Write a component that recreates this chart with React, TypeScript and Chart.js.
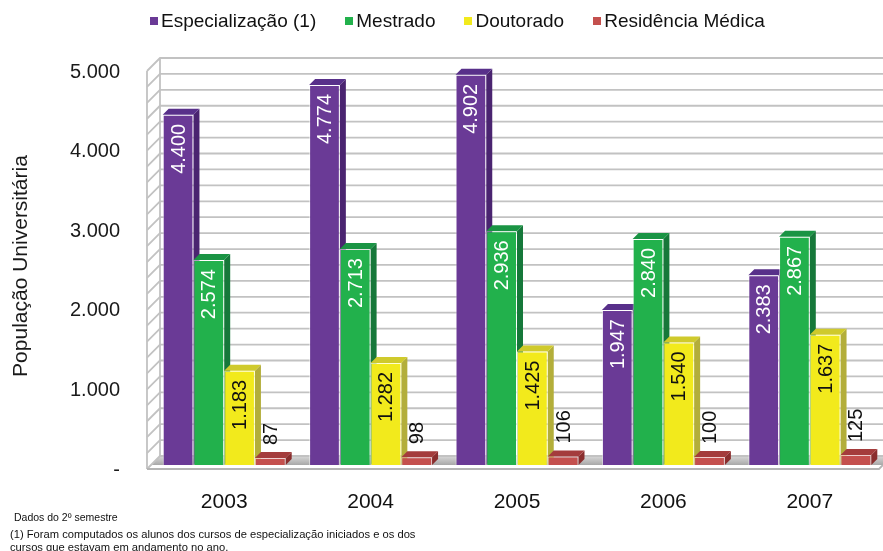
import React, { useEffect, useRef } from "react";
import { Chart, registerables } from "chart.js";

Chart.register(...registerables);

const years = ["2003", "2004", "2005", "2006", "2007"];
const especializacao = [4400, 4774, 4902, 1947, 2383];
const mestrado = [2574, 2713, 2936, 2840, 2867];
const doutorado = [1183, 1282, 1425, 1540, 1637];
const residencia = [87, 98, 106, 100, 125];
const seriesNames = ["Especialização (1)", "Mestrado", "Doutorado", "Residência Médica"];
const seriesValues = [especializacao, mestrado, doutorado, residencia];
const yMin = 0;
const yMax = 5000;
const yStep = 1000;
const gridStep = 200;
const axisTitle = "População Universitária";
const footnote1 = "Dados do 2º semestre";
const footnote2 = "(1) Foram computados os alunos dos cursos de especialização iniciados e os dos";
const footnote3 = "cursos que estavam em andamento no ano.";

const frontColors = ["#6a3a96", "#22b14c", "#f2ea1c", "#c4504e"];
const sideColors = ["#4a2470", "#16783a", "#b3ae3a", "#8a2e2e"];
const topColors = ["#58308a", "#1a9444", "#cfca2c", "#a43c3c"];
const labelColors = ["#ffffff", "#ffffff", "#111111", "#111111"];
const borderColors = ["rgba(255,255,255,0.55)", "rgba(255,255,255,0.55)", "rgba(255,255,200,0.8)", "rgba(255,210,210,0.7)"];

const FONT = "'Liberation Sans', Arial, sans-serif";

const fmt = (n: number) => String(n).replace(/\B(?=(\d{3})+(?!\d))/g, ".");

const DEPTH = 6;

const wallPlugin = {
  id: "walls3d",
  beforeDatasetsDraw(chart: any) {
    const { ctx, chartArea, scales } = chart;
    const y = scales.y;
    const L = chartArea.left - 4;
    const DX = 13;
    const DY = 13;
    const R = chart.width;
    const yf = (v: number) => y.getPixelForValue(v) + 4;
    const yb = (v: number) => yf(v) - DY;
    ctx.save();
    const g = ctx.createLinearGradient(0, yb(0), 0, y.getPixelForValue(0));
    g.addColorStop(0, "#d8d8d8");
    g.addColorStop(1, "#a8a8a8");
    ctx.fillStyle = g;
    ctx.beginPath();
    ctx.moveTo(L + DX, yb(0));
    ctx.lineTo(R, yb(0));
    ctx.lineTo(R, y.getPixelForValue(0));
    ctx.lineTo(L + 4, y.getPixelForValue(0));
    ctx.closePath();
    ctx.fill();
    ctx.strokeStyle = "#c2c2c2";
    ctx.lineWidth = 1.8;
    for (let v = yMin; v <= yMax; v += gridStep) {
      ctx.beginPath();
      ctx.moveTo(L, yf(v));
      ctx.lineTo(L + DX, yb(v));
      ctx.lineTo(R, yb(v));
      ctx.stroke();
    }
    ctx.beginPath();
    ctx.moveTo(L, yf(yMin));
    ctx.lineTo(L, yf(yMax));
    ctx.moveTo(L + DX, yb(yMin));
    ctx.lineTo(L + DX, yb(yMax));
    ctx.stroke();
    ctx.strokeStyle = "#b4b4b4";
    ctx.beginPath();
    ctx.moveTo(L, yf(0));
    ctx.lineTo(R - 4, yf(0));
    ctx.lineTo(R, yf(0) - 4);
    ctx.stroke();
    ctx.restore();

    ctx.save();
    chart.data.datasets.forEach((ds: any, i: number) => {
      const meta = chart.getDatasetMeta(i);
      meta.data.forEach((bar: any) => {
        const { x, y: top, base, width } = bar.getProps(["x", "y", "base", "width"], true);
        const l = x - width / 2;
        const r = x + width / 2;
        ctx.fillStyle = sideColors[i];
        ctx.beginPath();
        ctx.moveTo(r, top);
        ctx.lineTo(r + DEPTH, top - DEPTH);
        ctx.lineTo(r + DEPTH, base - DEPTH);
        ctx.lineTo(r, base);
        ctx.closePath();
        ctx.fill();
        ctx.fillStyle = topColors[i];
        ctx.beginPath();
        ctx.moveTo(l, top);
        ctx.lineTo(l + DEPTH, top - DEPTH);
        ctx.lineTo(r + DEPTH, top - DEPTH);
        ctx.lineTo(r, top);
        ctx.closePath();
        ctx.fill();
      });
    });
    ctx.restore();
  },
};

const labelPlugin = {
  id: "barLabels",
  afterDatasetsDraw(chart: any) {
    const { ctx } = chart;
    ctx.save();
    ctx.font = `20px ${FONT}`;
    ctx.textBaseline = "middle";
    chart.data.datasets.forEach((ds: any, i: number) => {
      const meta = chart.getDatasetMeta(i);
      meta.data.forEach((bar: any, j: number) => {
        const { x, y: top, base } = bar.getProps(["x", "y", "base"], true);
        const text = fmt(ds.data[j]);
        const tw = ctx.measureText(text).width;
        const inside = base - top > tw + 16;
        ctx.save();
        ctx.translate(x + 1, inside ? top + 9 : top - 13);
        ctx.rotate(-Math.PI / 2);
        ctx.fillStyle = inside ? labelColors[i] : "#111111";
        ctx.textAlign = inside ? "right" : "left";
        ctx.fillText(text, 0, 0);
        ctx.restore();
      });
    });
    ctx.restore();
  },
};

export default function App() {
  const ref = useRef<HTMLCanvasElement | null>(null);
  useEffect(() => {
    if (!ref.current) return;
    const chart = new Chart(ref.current, {
      type: "bar",
      data: {
        labels: years,
        datasets: seriesValues.map((vals, i) => ({
          label: seriesNames[i],
          data: vals,
          backgroundColor: frontColors[i],
          borderColor: borderColors[i],
          borderWidth: 1,
          barPercentage: 1,
          categoryPercentage: 0.84,
        })),
      },
      options: {
        responsive: false,
        devicePixelRatio: 1,
        animation: false,
        events: [],
        layout: { padding: { top: 67, left: 0, right: 0, bottom: 0 } },
        plugins: {
          legend: { display: false },
          tooltip: { enabled: false },
        },
        scales: {
          x: {
            ticks: { font: { size: 21, family: FONT }, color: "#111", padding: 25 },
            grid: { display: false, drawTicks: false },
            border: { display: false },
            afterFit: (s: any) => {
              s.height = 86;
            },
          },
          y: {
            min: yMin,
            max: yMax,
            ticks: {
              stepSize: yStep,
              font: { size: 20, family: FONT },
              color: "#1a1a1a",
              padding: 31,
              labelOffset: 5,
              callback: (v: any) => (Number(v) === 0 ? "-" : fmt(Number(v))),
            },
            grid: { display: false, drawTicks: false },
            border: { display: false },
            title: {
              display: true,
              text: axisTitle,
              font: { size: 21, family: FONT },
              color: "#1a1a1a",
              padding: { top: 9, bottom: 0 },
            },
            afterFit: (s: any) => {
              s.width = 151;
            },
          },
        },
      },
      plugins: [wallPlugin, labelPlugin],
    });
    return () => chart.destroy();
  }, []);

  return (
    <div style={{ position: "fixed", left: 0, top: 0, width: 883, height: 551, background: "#fff", overflow: "hidden", fontFamily: FONT }}>
      <canvas ref={ref} width={883} height={551} style={{ position: "absolute", left: 0, top: 0, width: 883, height: 551 }} />
      <div style={{ position: "absolute", left: 150, top: 10, display: "flex", alignItems: "center", fontSize: 19, lineHeight: "22px", whiteSpace: "nowrap", color: "#111" }}>
        {seriesNames.map((n, i) => (
          <div key={n} style={{ display: "flex", alignItems: "center", marginRight: 29 }}>
            <span style={{ display: "inline-block", width: 8, height: 8, background: frontColors[i], marginRight: 3 }} />
            <span>{n}</span>
          </div>
        ))}
      </div>
      <div style={{ position: "absolute", left: 14, top: 511, fontSize: 10.5, lineHeight: "13px", whiteSpace: "nowrap", color: "#111" }}>{footnote1}</div>
      <div style={{ position: "absolute", left: 10, top: 528, fontSize: 11.2, lineHeight: "13px", whiteSpace: "nowrap", color: "#111" }}>
        <div>{footnote2}</div>
        <div>{footnote3}</div>
      </div>
    </div>
  );
}
